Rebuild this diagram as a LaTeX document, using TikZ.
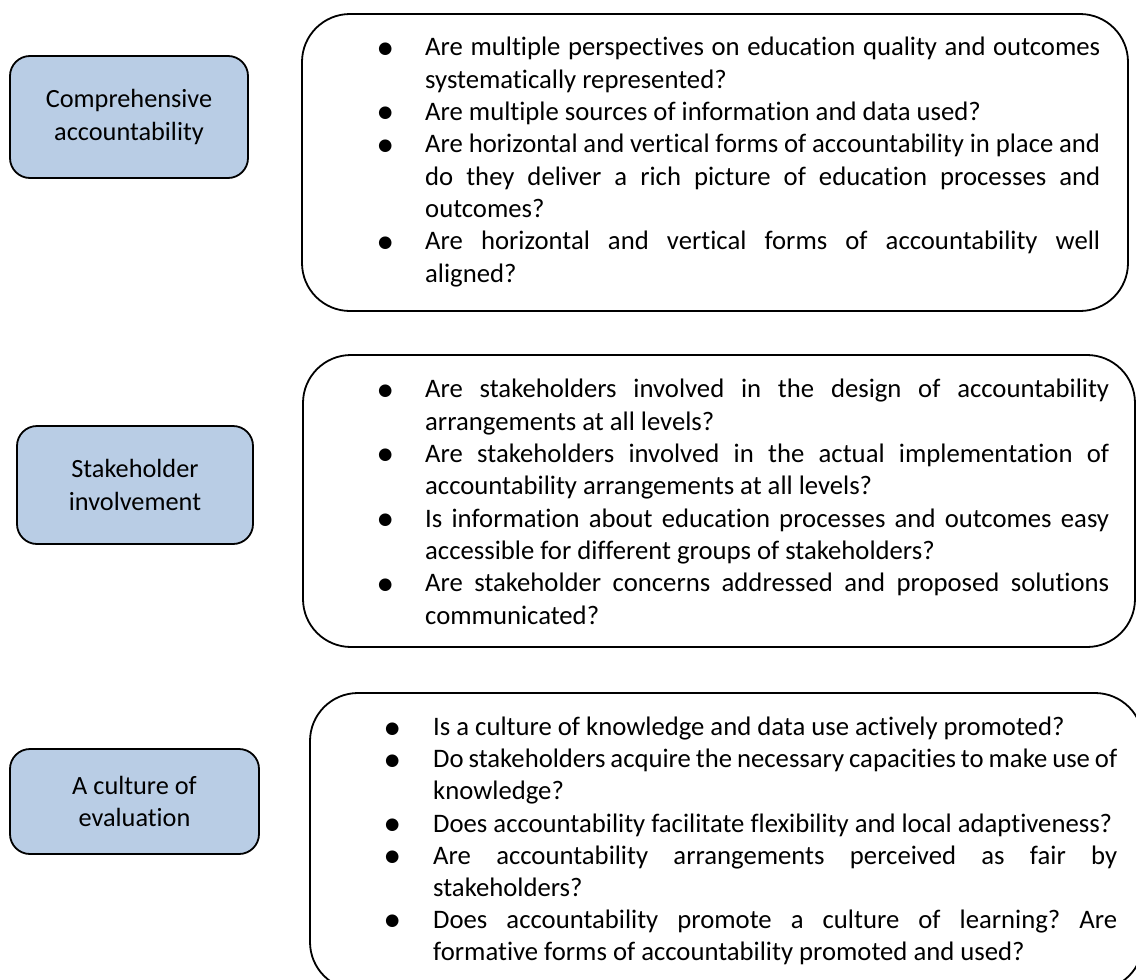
\documentclass[tikz,border=0pt]{standalone}
\usepackage{fontspec}
\setmainfont{Carlito}[RawFeature={-liga;-clig}]
\newfontfamily\bulfont{DejaVu Sans}
\frenchspacing
\newlength\qtw
\newlength\qgap
\newcommand\qst{\rule{0pt}{24pt}}
\newcommand\qb{\raisebox{2.5pt}{\bulfont\fontsize{16.5}{16.5}\selectfont ●}}
\newcommand\qj[2]{\hbox{\qst\makebox[0pt]{#1}\hspace{\qgap}\makebox[\qtw][s]{#2}}}
\newcommand\ql[2]{\hbox{\qst\makebox[0pt]{#1}\hspace{\qgap}\makebox[\qtw][l]{#2}}}
\begin{document}
\begin{tikzpicture}[x=1pt,y=-1pt,
  catbox/.style={draw=black, line width=1.8pt, fill=catblue, rounded corners=20pt,
    align=center, inner sep=0pt, font=\fontsize{26.3}{32.3}\selectfont},
  qframe/.style={draw=black, line width=1.8pt, rounded corners=48pt},
  qtext/.style={anchor=north west, inner sep=0pt, font=\fontsize{26.7}{32.35}\selectfont}]
\definecolor{catblue}{HTML}{B9CDE5}
\useasboundingbox (0,0) rectangle (1136,980);
\clip (0,0) rectangle (1136,980);
\fill[white] (0,0) rectangle (1136,980);

% left category boxes
\node[catbox, minimum width=238pt, minimum height=122pt] (c1) at (129,117) {Comprehensive\\accountability};
\node[catbox, minimum width=236pt, minimum height=118pt] (c2) at (135,485) {Stakeholder\\involvement};
\node[catbox, minimum width=249pt, minimum height=105pt] (c3) at (134.5,801.5) {A culture of\\evaluation};

% question frames
\draw[qframe] (302,14) rectangle (1128,311);
\draw[qframe] (303,355) rectangle (1135,647);
\draw[qframe] (310,693) rectangle (1143,990);

% box 1 text
\setlength\qtw{675pt}\setlength\qgap{40pt}
\node[qtext] (q1) at (385,31.5) {\vbox{%
\qj{\qb}{Are multiple perspectives on education quality and outcomes}
\ql{}{systematically represented?}
\ql{\qb}{Are multiple sources of information and data used?}
\qj{\qb}{Are horizontal and vertical forms of accountability in place and}
\qj{}{do they deliver a rich picture of education processes and}
\ql{}{outcomes?}
\qj{\qb}{Are horizontal and vertical forms of accountability well}
\ql{}{aligned?}}};

% box 2 text
\setlength\qtw{684pt}\setlength\qgap{40pt}
\node[qtext] (q2) at (385,373.5) {\vbox{%
\qj{\qb}{Are stakeholders involved in the design of accountability}
\ql{}{arrangements at all levels?}
\qj{\qb}{Are stakeholders involved in the actual implementation of}
\ql{}{accountability arrangements at all levels?}
\qj{\qb}{Is information about education processes and outcomes easy}
\ql{}{accessible for different groups of stakeholders?}
\qj{\qb}{Are stakeholder concerns addressed and proposed solutions}
\ql{}{communicated?}}};

% box 3 text
\setlength\qtw{684pt}\setlength\qgap{41pt}
\node[qtext, font=\fontsize{26.7}{32.1}\selectfont] (q3) at (392,711.5) {\vbox{%
\ql{\qb}{Is a culture of knowledge and data use actively promoted?}
\qj{\qb}{Do stakeholders acquire the necessary capacities to make use of}
\ql{}{knowledge?}
\ql{\qb}{Does accountability facilitate flexibility and local adaptiveness?}
\qj{\qb}{Are accountability arrangements perceived as fair by}
\ql{}{stakeholders?}
\qj{\qb}{Does accountability promote a culture of learning? Are}
\ql{}{formative forms of accountability promoted and used?}}};
\end{tikzpicture}
\end{document}
